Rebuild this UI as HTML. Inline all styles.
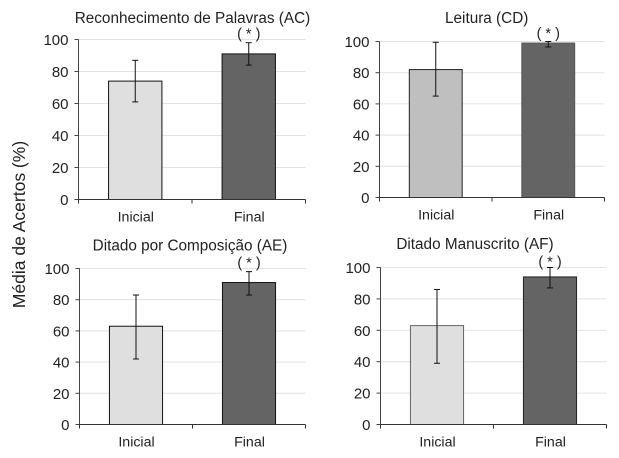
<!DOCTYPE html>
<html lang="pt">
<head>
<meta charset="utf-8">
<title>Média de Acertos</title>
<style>
html,body{margin:0;padding:0;background:#fff;width:619px;height:458px;overflow:hidden}
svg{display:block}
text{font-family:"Liberation Sans",sans-serif;fill:#222}
</style>
</head>
<body>
<svg id="figure" xmlns="http://www.w3.org/2000/svg" width="619" height="458" viewBox="0 0 619 458">
<rect width="619" height="458" fill="#fff"/>
<text transform="translate(25 224.5) rotate(-90)" text-anchor="middle" font-size="17.5">Média de Acertos (%)</text>
</svg>
<script>
const categories = ["Inicial", "Final"];
const yTicks = [0, 20, 40, 60, 80, 100];
const panelTitles = ["Reconhecimento de Palavras (AC)", "Leitura (CD)", "Ditado por Composição (AE)", "Ditado Manuscrito (AF)"];
const panelKeys = ["ac", "cd", "ae", "af"];
const meanValues = [[74, 91], [82, 99], [63, 91], [63, 94]];
const lowerValues = [[61, 84], [65, 96.5], [42, 83], [39, 87]];
const upperValues = [[87, 98], [99.5, 100], [83, 98], [86, 100]];
const initialFills = ["#dfdfdf", "#bfbfbf", "#dfdfdf", "#dfdfdf"];
const initialStrokes = ["#111", "#222", "#111", "#666"];
const finalStrokes = ["#111", "#555", "#111", "#222"];
const finalFill = "#646464";
const significance = "( * )";

const frames = [
  {left: 78.5, right: 305.5, top: 39.5, bottom: 199.5, titleX: 192.5, titleY: 23, sigY: 38.5},
  {left: 379.5, right: 604.5, top: 41.5, bottom: 197.5, titleX: 486.7, titleY: 23, sigY: 38},
  {left: 79.5, right: 305.5, top: 268.5, bottom: 424.5, titleX: 190, titleY: 250.5, sigY: 267.5},
  {left: 380.5, right: 606.5, top: 267.5, bottom: 424.5, titleX: 475, titleY: 249, sigY: 266.5}
];

const svg = document.getElementById("figure");
const NS = "http://www.w3.org/2000/svg";

function make(tag, attrs, text) {
  const el = document.createElementNS(NS, tag);
  for (const k in attrs) el.setAttribute(k, attrs[k]);
  if (text !== undefined) el.textContent = text;
  svg.appendChild(el);
  return el;
}

frames.forEach(function (f, p) {
  const key = panelKeys[p];
  const yScale = function (v) { return f.bottom - (v / 100) * (f.bottom - f.top); };
  const band = (f.right - f.left) / categories.length;
  const xCenter = function (i) { return f.left + band * (i + 0.5); };
  const barWidth = band * 0.47;

  const title = make("text", {x: f.titleX, y: f.titleY, "text-anchor": "middle", "font-size": 15.3}, panelTitles[p]);
  
  

  yTicks.forEach(function (t) {
    const y = yScale(t);
    if (t > 0) {
      const grid = make("line", {x1: f.left, x2: f.right, y1: y, y2: y, stroke: "#e2e2e2", "stroke-width": 1});
      
      
    }
    const tick = make("line", {x1: f.left - 4, x2: f.left, y1: y, y2: y, stroke: "#444", "stroke-width": 1});
    
    
    const label = make("text", {x: f.left - 10, y: y + 5.5, "text-anchor": "end", "font-size": 15}, String(t));
    
    
  });

  categories.forEach(function (c, i) {
    const cx = xCenter(i);
    const yv = yScale(meanValues[p][i]);
    const bar = make("rect", {x: cx - barWidth / 2, y: yv, width: barWidth, height: f.bottom - yv,
      fill: i === 0 ? initialFills[p] : finalFill, stroke: i === 0 ? initialStrokes[p] : finalStrokes[p], "stroke-width": 1});
    
    

    const yLo = yScale(lowerValues[p][i]);
    const yHi = yScale(upperValues[p][i]);
    const stem = make("line", {x1: cx, x2: cx, y1: yLo, y2: yHi, stroke: "#111", "stroke-width": 1});
    
    
    const capLo = make("line", {x1: cx - 3, x2: cx + 3, y1: yLo, y2: yLo, stroke: "#111", "stroke-width": 1});
    
    
    const capHi = make("line", {x1: cx - 3, x2: cx + 3, y1: yHi, y2: yHi, stroke: "#111", "stroke-width": 1});
    
    

    const cat = make("text", {x: cx + 0.5, y: f.bottom + 22, "text-anchor": "middle", "font-size": 14.2}, c);
    
    
  });

  const axisY = make("line", {x1: f.left, x2: f.left, y1: f.top, y2: f.bottom, stroke: "#444", "stroke-width": 1});
  
  
  const axisX = make("line", {x1: f.left, x2: f.right, y1: f.bottom, y2: f.bottom, stroke: "#333", "stroke-width": 1});
  
  

  for (let i = 0; i <= categories.length; i++) {
    const x = f.left + band * i;
    const xt = make("line", {x1: x, x2: x, y1: f.bottom, y2: f.bottom + 4, stroke: "#333", "stroke-width": 1});
    
    
  }

  const sig = make("text", {x: xCenter(1), y: f.sigY, "text-anchor": "middle", "font-size": 14.5, "xml:space": "preserve"}, significance);
  
  
});
</script>
</body>
</html>
